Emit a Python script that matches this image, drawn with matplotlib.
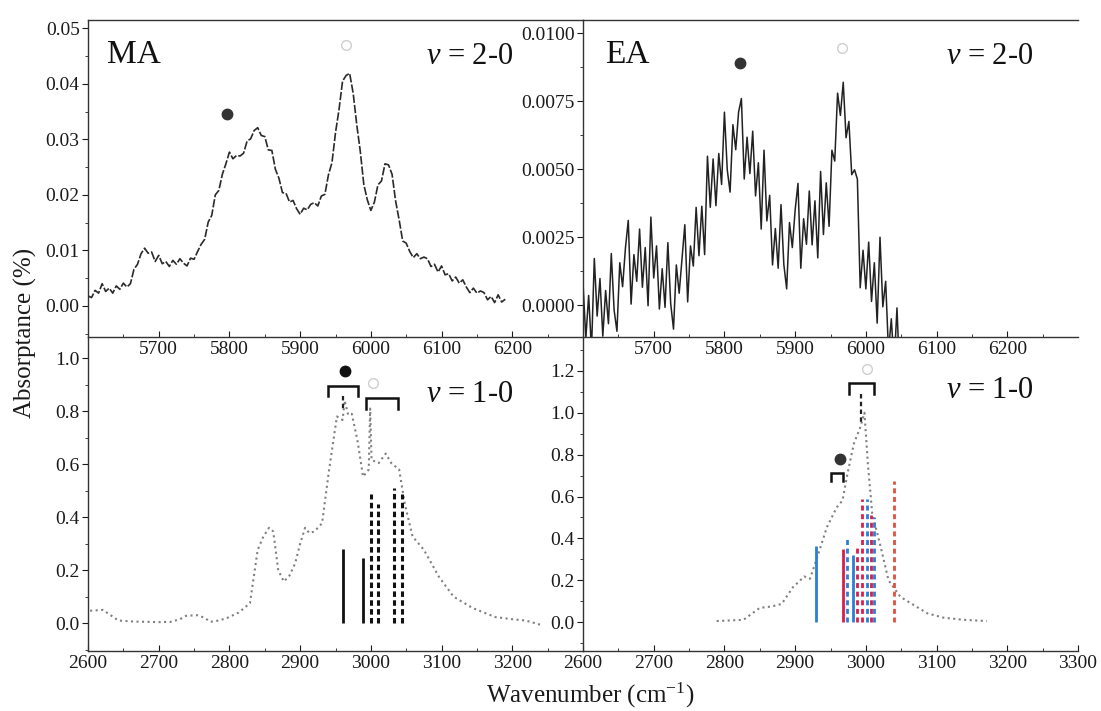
import numpy as np
import matplotlib
matplotlib.use('Agg')
import matplotlib.pyplot as plt
from matplotlib.ticker import MultipleLocator, FixedLocator, FormatStrFormatter

plt.rcParams['font.family'] = ['Liberation Serif', 'DejaVu Serif']
plt.rcParams['mathtext.fontset'] = 'custom'
plt.rcParams['mathtext.rm'] = 'Liberation Serif'
plt.rcParams['mathtext.it'] = 'Liberation Serif:italic'

# ---------------- data ----------------
# MA, v = 2-0 (absorptance in units of 1e-4 %), 5600..6190 every 5 cm-1
ma2_start, ma2_step = 5600, 5
ma2_y_1e4 = [18, 15, 28, 23, 40, 26, 32, 23, 36, 30, 41, 34, 40, 66, 75, 94, 104, 95, 97, 80,
             91, 76, 80, 71, 82, 75, 85, 77, 72, 86, 84, 98, 111, 120, 151, 163, 200, 208, 237, 256,
             277, 265, 271, 270, 275, 297, 301, 316, 321, 307, 305, 281, 280, 246, 230, 204, 203, 187, 190, 175,
             165, 176, 173, 183, 186, 180, 198, 201, 236, 258, 312, 354, 405, 415, 419, 383, 327, 279, 219, 191,
             172, 187, 218, 225, 256, 254, 237, 189, 155, 117, 113, 98, 87, 94, 85, 88, 85, 71, 75, 61,
             72, 56, 58, 45, 52, 41, 47, 34, 24, 32, 23, 27, 24, 11, 17, 6, 20, 7, 12]

# EA, v = 2-0 (absorptance in units of 1e-5 %), 5600..6048 every 4 cm-1
ea2_start, ea2_step = 5600, 4
ea2_y_1e5 = [80, -122, 36, -166, 172, -40, 98, -114, 54, -68, 190, -18, -96, 156, 68, 210, 312, 4, 186, 88,
             280, 66, 212, -2, 324, 100, 218, -14, 134, -8, 230, 6, -88, 148, 44, 170, 296, 12, 218, 144,
             360, 182, 364, 186, 548, 360, 538, 366, 558, 444, 710, 498, 416, 664, 572, 710, 760, 464, 618, 484,
             640, 402, 524, 280, 570, 310, 404, 148, 282, 136, 370, 150, 60, 304, 212, 350, 448, 136, 318, 224,
             420, 222, 384, 174, 492, 260, 450, 290, 570, 530, 780, 698, 820, 616, 676, 480, 498, 464, 64, 202,
             60, 232, 14, 156, -66, 250, -6, 88, -170, -50, -220, -10, -270]

# MA, v = 1-0
ma1_x = [2603, 2621, 2643, 2665, 2685, 2700, 2717, 2730, 2739, 2755, 2765, 2773, 2785, 2797, 2813, 2829,
         2840, 2848, 2856, 2862, 2869, 2877, 2885, 2893, 2900, 2907, 2913, 2920, 2931, 2941, 2952, 2960,
         2963, 2968, 2973, 2981, 2989, 2997, 2999, 3001, 3011, 3021, 3029, 3040, 3048, 3059, 3075, 3096,
         3117, 3144, 3176, 3200, 3219, 3240]
ma1_y = [0.047, 0.05, 0.01, 0.006, 0.005, 0.004, 0.005, 0.015, 0.028, 0.03, 0.02, 0.005, 0.01, 0.02, 0.04, 0.075,
         0.277, 0.327, 0.36, 0.346, 0.2, 0.157, 0.18, 0.226, 0.30, 0.36, 0.34, 0.346, 0.377, 0.58, 0.78, 0.767,
         0.84, 0.786, 0.79, 0.69, 0.553, 0.58, 0.81, 0.616, 0.604, 0.64, 0.604, 0.58, 0.45, 0.327, 0.277, 0.176,
         0.10, 0.057, 0.023, 0.015, 0.01, -0.006]

# EA, v = 1-0
ea1_x = [2789, 2827, 2850, 2867, 2881, 2897, 2913, 2921, 2933, 2945, 2959, 2967, 2974, 2983, 2992, 2998,
         3003, 3009, 3021, 3032, 3049, 3087, 3110, 3138, 3171]
ea1_y = [0.005, 0.011, 0.068, 0.075, 0.087, 0.167, 0.218, 0.207, 0.328, 0.454, 0.549, 0.581, 0.709, 0.852, 0.93, 1.0,
         0.75, 0.519, 0.359, 0.2, 0.12, 0.042, 0.021, 0.011, 0.005]

# calculated transitions, MA (black)
ma_stick_x = [2961, 2989, 3000, 3010, 3033, 3044]
ma_stick_h = [0.28, 0.245, 0.487, 0.45, 0.51, 0.487]
ma_stick_style = ['solid', 'solid', 'dashed', 'dashed', 'dashed', 'dashed']

# calculated transitions, EA (blue / red)
ea_stick_x = [2929, 2967.5, 2973.6, 2981.7, 2987.8, 2993.9, 3002, 3007.6, 3012, 3040]
ea_stick_h = [0.362, 0.351, 0.406, 0.319, 0.359, 0.589, 0.589, 0.51, 0.50, 0.676]
ea_stick_style = ['solid', 'solid', 'dashed', 'solid', 'dashed', 'dashed', 'dashed', 'dashed', 'dashed', 'dashed']
ea_stick_col = ['blue', 'red', 'blue', 'blue', 'red', 'red', 'blue', 'red', 'blue', 'orange']

# ---------------- figure ----------------
fig = plt.figure(figsize=(11.01, 7.11), dpi=100)
L, M, R = 88 / 1101, 583 / 1101, 1078 / 1101
T, MID, B = 1 - 20 / 711, 1 - 337 / 711, 1 - 651 / 711
W = M - L
ax_tl = fig.add_axes([L, MID, W, T - MID])
ax_tr = fig.add_axes([M, MID, W, T - MID])
ax_bl = fig.add_axes([L, B, W, MID - B])
ax_br = fig.add_axes([M, B, W, MID - B])

tick_col = '#1a1a1a'
for ax in (ax_tl, ax_tr, ax_bl, ax_br):
    ax.patch.set_alpha(0)
    for s in ax.spines.values():
        s.set_color('#333333')
        s.set_linewidth(1.0)
    ax.tick_params(axis='x', which='both', direction='in', labelsize=14, colors=tick_col, pad=3)
    ax.tick_params(axis='x', which='major', length=4)
    ax.tick_params(axis='x', which='minor', length=2.5)
    ax.tick_params(axis='y', which='both', direction='out', labelsize=14, colors=tick_col, pad=2)
    ax.tick_params(axis='y', which='major', length=4)
    ax.tick_params(axis='y', which='minor', length=2)
ax_tl.spines['right'].set_visible(False)
ax_bl.spines['right'].set_visible(False)
ax_tr.spines['right'].set_visible(False)
ax_br.spines['right'].set_visible(False)
ax_bl.spines['top'].set_visible(False)
ax_br.spines['top'].set_visible(False)

# top panels axes
for ax in (ax_tl, ax_tr):
    ax.set_xlim(5600, 6300)
    ax.xaxis.set_major_locator(FixedLocator([5700, 5800, 5900, 6000, 6100, 6200]))
    ax.xaxis.set_minor_locator(FixedLocator([5650, 5750, 5850, 5950, 6050, 6150, 6250]))
ax_tl.set_ylim(-0.0056, 0.0515)
ax_tl.yaxis.set_major_locator(MultipleLocator(0.01))
ax_tl.yaxis.set_minor_locator(MultipleLocator(0.005))
ax_tl.yaxis.set_major_formatter(FormatStrFormatter('%.2f'))
ax_tr.set_ylim(-0.00117, 0.01049)
ax_tr.yaxis.set_major_locator(MultipleLocator(0.0025))
ax_tr.yaxis.set_minor_locator(MultipleLocator(0.00125))
ax_tr.yaxis.set_major_formatter(FormatStrFormatter('%.4f'))

# bottom panels axes
ax_bl.set_xlim(2600, 3300)
ax_bl.xaxis.set_major_locator(FixedLocator([2600, 2700, 2800, 2900, 3000, 3100, 3200]))
ax_bl.xaxis.set_minor_locator(FixedLocator([2650, 2750, 2850, 2950, 3050, 3150, 3250]))
ax_br.set_xlim(2600, 3300)
ax_br.xaxis.set_major_locator(MultipleLocator(100))
ax_br.xaxis.set_minor_locator(MultipleLocator(50))
ax_bl.set_ylim(-0.105, 1.08)
ax_bl.yaxis.set_major_locator(MultipleLocator(0.2))
ax_bl.yaxis.set_minor_locator(MultipleLocator(0.1))
ax_bl.yaxis.set_major_formatter(FormatStrFormatter('%.1f'))
ax_br.set_ylim(-0.138, 1.362)
ax_br.yaxis.set_major_locator(MultipleLocator(0.2))
ax_br.yaxis.set_minor_locator(MultipleLocator(0.1))
ax_br.yaxis.set_major_formatter(FormatStrFormatter('%.1f'))

# spectra
ma2_x = ma2_start + ma2_step * np.arange(len(ma2_y_1e4))
ax_tl.plot(ma2_x, np.array(ma2_y_1e4) * 1e-4, color='#2a2a2a', lw=1.2, dashes=(5, 1.2))
ea2_x = ea2_start + ea2_step * np.arange(len(ea2_y_1e5))
ax_tr.plot(ea2_x, np.array(ea2_y_1e5) * 1e-5, color='#222222', lw=1.1)

ax_bl.plot(ma1_x, ma1_y, color='#808080', lw=1.5, ls=':')
ax_br.plot(ea1_x, ea1_y, color='#808080', lw=1.5, ls=':')

# sticks
for x, h, st in zip(ma_stick_x, ma_stick_h, ma_stick_style):
    if st == 'solid':
        ax_bl.plot([x, x], [0, h], color='#111111', lw=2.0, solid_capstyle='butt')
    else:
        ax_bl.plot([x, x], [0, h], color='#111111', lw=2.2, dashes=(1.8, 1.1))

col_map = {'blue': '#2a7fd4', 'red': '#d81e4c', 'orange': '#e0503e'}
for x, h, st, c in zip(ea_stick_x, ea_stick_h, ea_stick_style, ea_stick_col):
    if st == 'solid':
        ax_br.plot([x, x], [0, h], color=col_map[c], lw=2.0, solid_capstyle='butt')
    else:
        ax_br.plot([x, x], [0, h], color=col_map[c], lw=2.0, dashes=(1.8, 1.3))

# markers
dark = '#333333'
faint = '#cfcfcf'
ax_tl.plot([5797], [0.0345], 'o', color=dark, ms=7.5)
ax_tl.plot([5965], [0.0470], 'o', mfc='none', mec=faint, ms=7, mew=1)
ax_tr.plot([5822], [0.0089], 'o', color=dark, ms=7.5)
ax_tr.plot([5966], [0.00945], 'o', mfc='none', mec=faint, ms=7, mew=1)
ax_bl.plot([2963], [0.95], 'o', color='#111111', ms=7.5)
ax_bl.plot([3003], [0.906], 'o', mfc='none', mec=faint, ms=7, mew=1)
ax_br.plot([2963], [0.78], 'o', color=dark, ms=7.5)
ax_br.plot([3001], [1.21], 'o', mfc='none', mec=faint, ms=7, mew=1)


def bracket(ax, x0, x1, top, leg, stem=None):
    ax.plot([x0, x0, x1, x1], [leg, top, top, leg], color='#111111', lw=1.8,
            solid_joinstyle='miter')
    if stem is not None:
        xm = (x0 + x1) / 2
        ax.plot([xm, xm], [leg, stem], color='#222222', lw=1.6, dashes=(2, 1.5))


bracket(ax_bl, 2939, 2982, 0.894, 0.857, stem=0.80)
bracket(ax_bl, 2993, 3038, 0.849, 0.81)
bracket(ax_br, 2975.5, 3011, 1.144, 1.092, stem=0.95)
bracket(ax_br, 2951, 2967, 0.711, 0.676)

# labels
ax_tl.text(5627, 0.0452, 'MA', fontsize=24, va='center', ha='left', color='#111111')
ax_tr.text(5631, 0.0092, 'EA', fontsize=24, va='center', ha='left', color='#111111')
ax_tl.text(6202, 0.0449, r'$\it{v}$ = 2-0', fontsize=22, va='center', ha='right', color='#111111')
ax_tr.text(6237, 0.00915, r'$\it{v}$ = 2-0', fontsize=22, va='center', ha='right', color='#111111')
ax_bl.text(3202, 0.864, r'$\it{v}$ = 1-0', fontsize=22, va='center', ha='right', color='#111111')
ax_br.text(3237, 1.105, r'$\it{v}$ = 1-0', fontsize=22, va='center', ha='right', color='#111111')

fig.text(0.023, 0.532, 'Absorptance (%)', rotation=90, fontsize=18, ha='center', va='center',
         color='#1a1a1a')
fig.text(0.536, 0.0225, r'Wavenumber (cm$^{-1}$)', fontsize=18, ha='center', va='center',
         color='#1a1a1a')

fig.savefig('out.png', dpi=100)
